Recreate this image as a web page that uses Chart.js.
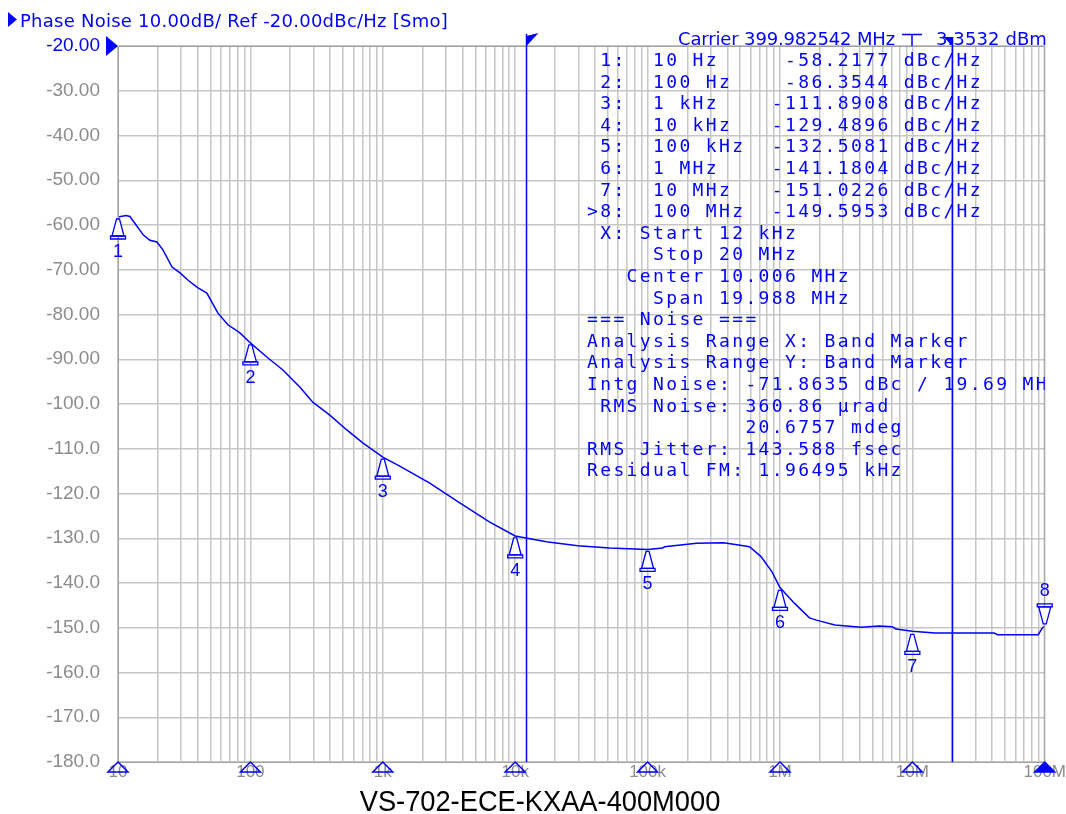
<!DOCTYPE html>
<html><head><meta charset="utf-8">
<script src="https://cdn.jsdelivr.net/npm/chart.js@4/dist/chart.umd.min.js"></script>
<style>html,body{margin:0;padding:0;background:#fff;}#wrap{width:1066px;height:814px;position:relative}</style>
</head><body><div id="wrap"><canvas id="c" width="1066" height="814"></canvas></div>
<script>
// ---- data ----
const freqHz = [10, 11.5, 12.3, 13.4, 15.5, 17.4, 19.7, 21.9, 25.6, 29.4, 33.7, 39.4, 46.9, 56.9, 67.6, 83.4, 100,
  133, 176, 236, 296, 398, 535, 706, 1000, 1343, 2263, 3813, 6427, 10000, 17180, 29660, 51660, 100000,
  129700, 134300, 234400, 375000, 486500, 589000, 719000, 871000, 1000000, 1285000, 1670000, 1885000,
  2600000, 4090000, 5630000, 7060000, 7530000, 10000000, 14800000, 41400000, 44100000, 89300000, 95700000, 100000000];
const phaseNoise = [-58.2, -57.9, -58.1, -59.6, -62.2, -63.4, -63.8, -65.6, -69.4, -70.7, -72.3, -73.9, -75.2, -79.7, -82.3, -84.1, -86.35,
  -89.5, -92.4, -96.2, -99.6, -102.5, -105.8, -108.7, -111.89, -113.9, -117.7, -122.1, -126.4, -129.49, -130.8, -131.7, -132.2, -132.51,
  -132.2, -131.9, -131.1, -131.0, -131.5, -131.9, -134.1, -137.5, -141.0, -144.5, -147.8, -148.3,
  -149.4, -149.9, -149.6, -149.8, -150.3, -150.8, -151.2, -151.2, -151.55, -151.55, -150.1, -149.6];
const xTickValues = [10, 100, 1e3, 1e4, 1e5, 1e6, 1e7, 1e8];
const xTickLabels = ['10', '100', '1k', '10k', '100k', '1M', '10M', '100M'];
const yTickValues = [-20, -30, -40, -50, -60, -70, -80, -90, -100, -110, -120, -130, -140, -150, -160, -170, -180];
const yTickLabels = ['-20.00', '-30.00', '-40.00', '-50.00', '-60.00', '-70.00', '-80.00', '-90.00', '-100.0', '-110.0', '-120.0', '-130.0', '-140.0', '-150.0', '-160.0', '-170.0', '-180.0'];
const markerFreqs = [10, 100, 1e3, 1e4, 1e5, 1e6, 1e7, 1e8];
const markerFreqLabels = ['10 Hz', '100 Hz', '1 kHz', '10 kHz', '100 kHz', '1 MHz', '10 MHz', '100 MHz'];
const markerValues = [-58.2177, -86.3544, -111.8908, -129.4896, -132.5081, -141.1804, -151.0226, -149.5953];
const bandStartHz = 12000;
const bandStopHz = 20000000;
const headerText = 'Phase Noise 10.00dB/ Ref -20.00dBc/Hz [Smo]';
const carrierText = 'Carrier 399.982542 MHz';
const carrierLevel = '3.3532 dBm';
const rangeLines = [' X: Start 12 kHz', '     Stop 20 MHz', '   Center 10.006 MHz', '     Span 19.988 MHz',
  '=== Noise ===', 'Analysis Range X: Band Marker', 'Analysis Range Y: Band Marker',
  'Intg Noise: -71.8635 dBc / 19.69 MHz', ' RMS Noise: 360.86 \u00b5rad', '            20.6757 mdeg',
  'RMS Jitter: 143.588 fsec', 'Residual FM: 1.96495 kHz'];
const chartTitle = 'VS-702-ECE-KXAA-400M000';

const BLUE = '#0000ff';
const GRAY = '#8c8c8c';
const GRID = '#c6c6c6';

function fitText(ctx, text, x, y, width, font) {
  ctx.font = font;
  ctx.letterSpacing = '0px';
  const w = ctx.measureText(text).width;
  ctx.letterSpacing = ((width - w) / text.length) + 'px';
  ctx.fillText(text, x, y);
  ctx.letterSpacing = '0px';
}

const overlay = {
  id: 'overlay',
  afterDraw(chart) {
    const ctx = chart.ctx, a = chart.chartArea;
    const xs = chart.scales.x, ys = chart.scales.y;
    ctx.save();
    // plot frame
    ctx.strokeStyle = '#a0a0a0'; ctx.lineWidth = 1;
    ctx.strokeRect(a.left + 0.5, a.top + 0.5, a.right - a.left - 1, a.bottom - a.top);

    // header
    ctx.fillStyle = BLUE;
    ctx.beginPath(); ctx.moveTo(8, 12); ctx.lineTo(17, 19.5); ctx.lineTo(8, 27); ctx.closePath(); ctx.fill();
    ctx.textAlign = 'left'; ctx.textBaseline = 'alphabetic';
    fitText(ctx, headerText, 20, 27, 428, '18px "DejaVu Sans"');
    fitText(ctx, carrierText, 678, 45, 217, '18px "DejaVu Sans"');
    fitText(ctx, carrierLevel, 936, 45, 111, '18px "DejaVu Sans"');
    ctx.strokeStyle = BLUE; ctx.lineWidth = 1.5;
    ctx.beginPath(); ctx.moveTo(902, 34.5); ctx.lineTo(922, 34.5); ctx.moveTo(912, 34.5); ctx.lineTo(912, 46); ctx.stroke();

    // reference level triangle
    const yRef = ys.getPixelForValue(-20);
    ctx.beginPath(); ctx.moveTo(106, yRef - 10); ctx.lineTo(118, yRef); ctx.lineTo(106, yRef + 10); ctx.closePath(); ctx.fill();

    // band marker lines
    const xb1 = Math.round(xs.getPixelForValue(bandStartHz)) + 0.5;
    const xb2 = Math.round(xs.getPixelForValue(bandStopHz)) + 0.5;
    ctx.lineWidth = 1.5;
    ctx.beginPath(); ctx.moveTo(xb1, 34); ctx.lineTo(xb1, a.bottom); ctx.moveTo(xb2, 37); ctx.lineTo(xb2, a.bottom); ctx.stroke();
    ctx.beginPath(); ctx.moveTo(xb1, 36); ctx.lineTo(xb1 + 12, 33); ctx.lineTo(xb1, 46); ctx.closePath(); ctx.fill();
    ctx.beginPath(); ctx.moveTo(xb2, 37); ctx.lineTo(xb2 - 9, 37); ctx.lineTo(xb2, 46); ctx.closePath(); ctx.fill();

    // marker table
    ctx.save();
    ctx.beginPath(); ctx.rect(a.left, a.top, a.right - a.left, a.bottom - a.top); ctx.clip();
    ctx.fillStyle = BLUE;
    ctx.font = '18px "DejaVu Sans Mono"';
    ctx.letterSpacing = '0px';
    const adv = ctx.measureText('0').width;
    ctx.letterSpacing = (13.2 - adv) + 'px';
    const lines = [];
    for (let i = 0; i < markerFreqs.length; i++) {
      const pre = (i === markerFreqs.length - 1 ? '>' : ' ') + (i + 1) + ':  ';
      lines.push(pre + markerFreqLabels[i].padEnd(9) + markerValues[i].toFixed(4).padStart(9) + ' dBc/Hz');
    }
    rangeLines.forEach(l => lines.push(l));
    lines.forEach((l, i) => ctx.fillText(l, 587, 66 + 21.6 * i));
    ctx.letterSpacing = '0px';
    ctx.restore();

    // trace markers
    ctx.font = '18px "Liberation Sans"';
    ctx.textAlign = 'center'; ctx.textBaseline = 'middle';
    ctx.lineWidth = 1.3;
    for (let i = 0; i < markerFreqs.length; i++) {
      const x = xs.getPixelForValue(markerFreqs[i]);
      const y = ys.getPixelForValue(markerValues[i]);
      const d = (i === markerFreqs.length - 1) ? -1 : 1;
      ctx.beginPath();
      ctx.moveTo(x - 1.5, y + 2 * d); ctx.lineTo(x + 1.5, y + 2 * d);
      ctx.lineTo(x + 6, y + 19 * d); ctx.lineTo(x - 6, y + 19 * d); ctx.closePath();
      ctx.fillStyle = '#fff'; ctx.fill(); ctx.strokeStyle = BLUE; ctx.stroke();
      ctx.beginPath();
      ctx.moveTo(x - 7.5, y + 19 * d); ctx.lineTo(x + 7.5, y + 19 * d);
      ctx.lineTo(x + 7.5, y + 22 * d); ctx.lineTo(x - 7.5, y + 22 * d); ctx.closePath(); ctx.stroke();
      ctx.fillStyle = BLUE;
      ctx.fillText(String(i + 1), x, y + 35 * d);
    }

    // x-axis decade markers
    ctx.lineWidth = 1.5;
    for (let i = 0; i < xTickValues.length; i++) {
      const x = xs.getPixelForValue(xTickValues[i]);
      const y = a.bottom;
      ctx.beginPath(); ctx.moveTo(x, y); ctx.lineTo(x + 10, y + 10); ctx.lineTo(x - 10, y + 10); ctx.closePath();
      if (i === xTickValues.length - 1) { ctx.fillStyle = BLUE; ctx.fill(); }
      ctx.strokeStyle = BLUE; ctx.stroke();
    }

    // bottom title
    ctx.fillStyle = '#000';
    ctx.font = '29px "Liberation Sans"';
    ctx.textAlign = 'center'; ctx.textBaseline = 'alphabetic';
    ctx.save(); ctx.translate(540, 811); ctx.scale(0.94, 1); ctx.fillText(chartTitle, 0, 0); ctx.restore();
    ctx.restore();
  }
};

new Chart(document.getElementById('c'), {
  type: 'line',
  data: {
    datasets: [{
      data: freqHz.map((f, i) => ({ x: f, y: phaseNoise[i] })),
      borderColor: BLUE, borderWidth: 1.5, pointRadius: 0, tension: 0, fill: false
    }]
  },
  options: {
    responsive: false, animation: false, devicePixelRatio: 1,
    layout: { padding: { top: 46, right: 20, left: 0, bottom: 0 } },
    plugins: { legend: { display: false }, tooltip: { enabled: false }, title: { display: false } },
    scales: {
      x: {
        type: 'logarithmic', min: 10, max: 1e8,
        afterBuildTicks: (s) => {
          const t = [];
          for (let e = 1; e <= 7; e++) for (let m = 1; m <= 9; m++) t.push({ value: m * Math.pow(10, e) });
          t.push({ value: 1e8 });
          s.ticks = t;
        },
        afterFit: (s) => { s.height = 52; },
        ticks: {
          autoSkip: false, maxRotation: 0, minRotation: 0, padding: 0, color: GRAY,
          font: { family: 'Liberation Sans', size: 17 },
          callback: (v) => { const i = xTickValues.indexOf(v); return i >= 0 ? xTickLabels[i] : ''; }
        },
        grid: { color: GRID, lineWidth: 1.5, drawTicks: false },
        border: { color: '#a0a0a0', width: 1 }
      },
      y: {
        type: 'linear', min: -180, max: -20,
        afterBuildTicks: (s) => { s.ticks = yTickValues.map(v => ({ value: v })); },
        afterFit: (s) => { s.width = 118; },
        ticks: {
          padding: 18, autoSkip: false,
          color: (c) => (c.tick && c.tick.value === -20) ? BLUE : GRAY,
          font: { family: 'Liberation Sans', size: 19 },
          callback: (v) => { const i = yTickValues.indexOf(v); return i >= 0 ? yTickLabels[i] : ''; }
        },
        grid: { color: GRID, lineWidth: 1.5, drawTicks: false },
        border: { color: '#a0a0a0', width: 1 }
      }
    }
  },
  plugins: [overlay]
});
</script>
</body></html>
